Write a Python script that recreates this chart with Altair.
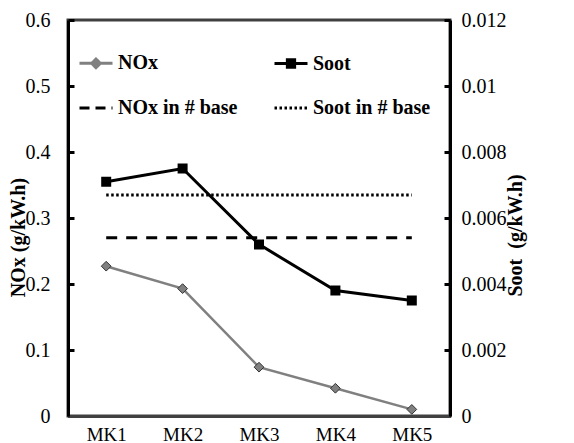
import altair as alt
import pandas as pd

categories = ["MK1", "MK2", "MK3", "MK4", "MK5"]
nox = [0.227, 0.193, 0.074, 0.042, 0.010]
soot = [0.0071, 0.0075, 0.0052, 0.0038, 0.0035]
nox_base = [0.27] * 5
soot_base = [0.0067] * 5

series_names = ["NOx", "Soot", "NOx in # base", "Soot in # base"]

df = pd.DataFrame({
    "cat": categories,
    "nox": nox,
    "soot": soot,
    "nox_base": nox_base,
    "soot_base": soot_base,
})
legend_df = pd.DataFrame({"series": series_names})

FONT = "Liberation Serif, Times New Roman, Times, DejaVu Serif, serif"

x = alt.X("cat:N", sort=categories, title=None,
          scale=alt.Scale(type="point", padding=0.5),
          axis=alt.Axis(labelFont=FONT, labelFontSize=19, labelColor="black",
                        labelAngle=0, labelPadding=9, ticks=False, grid=False,
                        domainColor="#404040", domainWidth=3))

left_axis = alt.Axis(values=[0, 0.1, 0.2, 0.3, 0.4, 0.5, 0.6], format="~g",
                     labelFont=FONT, labelFontSize=20, labelColor="black",
                     labelPadding=18, ticks=False,
                     domainColor="black", domainWidth=3,
                     grid=True, gridColor="black", gridWidth=3, gridDash=[6, 2000],
                     gridOpacity=1,
                     titleFont=FONT, titleFontSize=20, titleFontWeight="bold",
                     titleColor="black", titleAngle=270, titleX=-50, titleY=217,
                     titleAlign="center", titleBaseline="middle")
right_axis = alt.Axis(orient="right",
                      values=[0, 0.002, 0.004, 0.006, 0.008, 0.01, 0.012], format="~g",
                      labelFont=FONT, labelFontSize=20, labelColor="black",
                      labelPadding=11, ticks=False,
                      domainColor="black", domainWidth=3,
                      grid=True, gridColor="black", gridWidth=3, gridDash=[6, 2000],
                      gridOpacity=1,
                      titleFont=FONT, titleFontSize=20, titleFontWeight="bold",
                      titleColor="black", titleAngle=270, titleX=65, titleY=215,
                      titleAlign="center", titleBaseline="middle")

nox_title = "NOx (g/kW.h)"
soot_title = "Soot \u00a0(g/kW.h)"
nox_scale = alt.Scale(domain=[0, 0.6])
soot_scale = alt.Scale(domain=[0, 0.012])

base = alt.Chart(df)

nox_y = alt.Y("nox:Q", scale=nox_scale, axis=left_axis, title=nox_title)
nox_line = base.mark_line(color="#808080", strokeWidth=2.5).encode(x=x, y=nox_y)
nox_pts = base.mark_point(shape="diamond", filled=True, size=95, fill="#808080",
                          stroke="#333333", strokeWidth=1, opacity=1).encode(x=x, y=nox_y)
nox_base_line = base.mark_line(color="black", strokeWidth=3, strokeDash=[11, 9]).encode(
    x=x, y=alt.Y("nox_base:Q", scale=nox_scale, axis=left_axis, title=nox_title))

paths = [
    "M-1,0H1M-0.26,0L0,-0.26L0.26,0L0,0.26Z",
    "M-1,0H1M-0.22,-0.22H0.22V0.22H-0.22Z",
    "M-1,0H1",
    "M-1,0H1",
]
fills = ["#808080", "black", "transparent", "transparent"]
strokes = ["#808080", "black", "black", "black"]
dashes = [[1, 0], [1, 0], [10, 6], [2.5, 2.5]]

leg = alt.Legend(title=None, orient="none", legendX=10, legendY=25, columns=2,
                 direction="horizontal",
                 columnPadding=30, rowPadding=16, symbolSize=1089,
                 symbolStrokeWidth=3, symbolOpacity=1, labelFont=FONT,
                 labelFontSize=20, labelFontWeight="bold", labelColor="black",
                 labelOffset=4, padding=0, labelLimit=400)

legend_layer = alt.Chart(legend_df).mark_point(opacity=1).encode(
    shape=alt.Shape("series:N", sort=series_names,
                    scale=alt.Scale(domain=series_names, range=paths), legend=leg),
    fill=alt.Fill("series:N", sort=series_names,
                  scale=alt.Scale(domain=series_names, range=fills), legend=leg),
    stroke=alt.Stroke("series:N", sort=series_names,
                      scale=alt.Scale(domain=series_names, range=strokes), legend=leg),
    strokeDash=alt.StrokeDash("series:N", sort=series_names,
                              scale=alt.Scale(domain=series_names, range=dashes), legend=leg),
).transform_filter("false")

soot_y = alt.Y("soot:Q", scale=soot_scale, axis=right_axis, title=soot_title)
soot_line = base.mark_line(color="black", strokeWidth=3).encode(x=x, y=soot_y)
soot_pts = base.mark_point(shape="square", filled=True, size=64, fill="black",
                           stroke="black", opacity=1).encode(x=x, y=soot_y)
soot_base_line = base.mark_line(color="black", strokeWidth=3, strokeDash=[2.5, 2.5]).encode(
    x=x, y=alt.Y("soot_base:Q", scale=soot_scale, axis=right_axis, title=soot_title))

left_group = alt.layer(nox_base_line, nox_line, nox_pts, legend_layer)
right_group = alt.layer(soot_base_line, soot_line, soot_pts)

chart = alt.layer(left_group, right_group).resolve_scale(
    y="independent", shape="independent", fill="independent",
    stroke="independent", strokeDash="independent"
).properties(
    width=382, height=396,
    padding={"left": 60, "top": 12, "right": 116, "bottom": 30},
    autosize=alt.AutoSizeParams(type="none"),
    background="white",
).configure(font=FONT).configure_view(stroke="#404040", strokeWidth=3)

chart.save("out.html", embed_options={"renderer": "svg", "actions": False})
